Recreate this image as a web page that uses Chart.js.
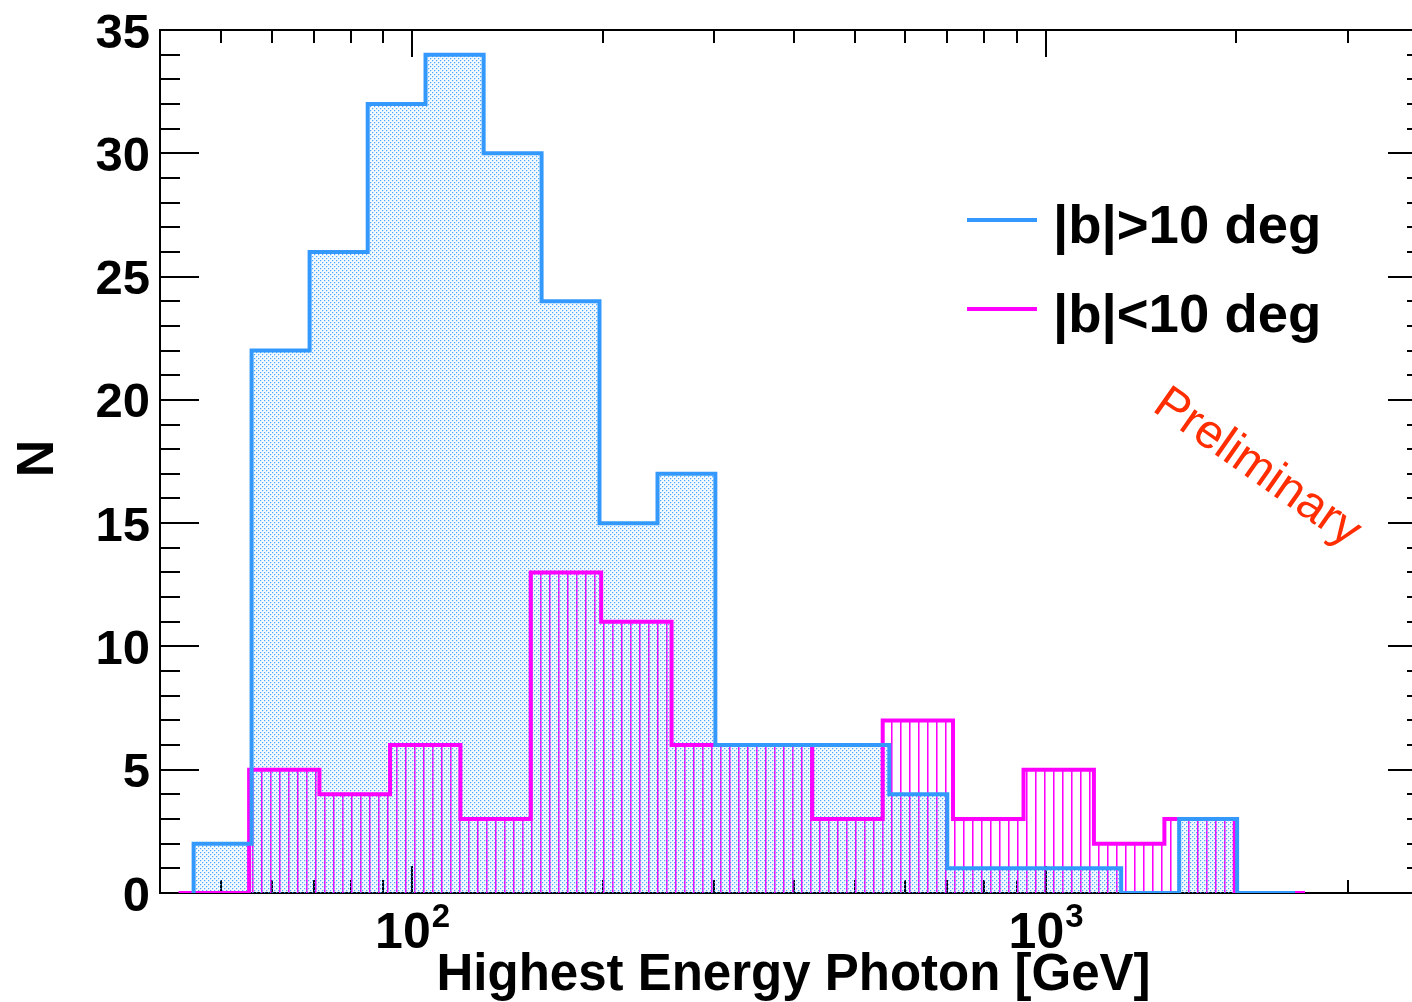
<!DOCTYPE html>
<html>
<head>
<meta charset="utf-8">
<script src="https://cdn.jsdelivr.net/npm/chart.js@4.4.1/dist/chart.umd.min.js"></script>
<style>
  html, body { margin: 0; padding: 0; background: #ffffff; overflow: hidden; }
  #wrap { width: 1412px; height: 1002px; overflow: hidden; position: relative; }
  canvas { display: block; }
</style>
</head>
<body>
<div id="wrap"><canvas id="c" width="1440" height="1002"></canvas></div>
<script>
// Histogram of the highest-energy photon per source, split by galactic latitude.
// Bin edges in GeV (log-uniform binning), counts per bin.
const highLatEdges = [45.2, 55.8, 68.9, 85.1, 105.0, 129.7, 160.1, 197.6, 244.0, 301.1,
                      371.8, 458.9, 566.6, 699.5, 863.6, 1066, 1316, 1625, 2006, 2476];
const highLatCounts = [2, 22, 26, 32, 34, 30, 24, 15, 17, 6, 6, 6, 4, 1, 1, 1, 0, 3, 0];

const lowLatEdges = [42.8, 55.3, 71.4, 92.3, 119.2, 153.9, 198.8, 256.8, 331.6,
                     428.2, 553.2, 714.3, 922.9, 1192, 1540, 1989, 2567];
const lowLatCounts = [0, 5, 4, 6, 3, 13, 11, 6, 6, 3, 7, 3, 5, 2, 3, 0];

const seriesLabels = ['|b|>10 deg', '|b|<10 deg'];
const seriesColors = ['#3399ff', '#ff00ff'];

const xRange = [40, 4000];
const yRange = [0, 35];
const yMajorTicks = [0, 5, 10, 15, 20, 25, 30, 35];
const yMinorTicks = [1, 2, 3, 4, 6, 7, 8, 9, 11, 12, 13, 14, 16, 17, 18, 19,
                     21, 22, 23, 24, 26, 27, 28, 29, 31, 32, 33, 34];
const xMajorTicks = [100, 1000];
const xMajorExponents = ['2', '3'];
const xMinorTicks = [50, 60, 70, 80, 90, 200, 300, 400, 500, 600, 700, 800, 900, 2000, 3000];

const xTitle = 'Highest Energy Photon [GeV]';
const yTitle = 'N';
const stampText = 'Preliminary';

const FONT = '"Liberation Sans", Arial, Helvetica, sans-serif';

// Outline points for a step histogram: rise from zero at the first edge,
// one point per bin at its left edge, then drop back to zero at the last edge.
function stepPoints(edges, counts) {
  const pts = [{ x: edges[0], y: 0 }];
  counts.forEach((c, i) => pts.push({ x: edges[i], y: c }));
  pts.push({ x: edges[edges.length - 1], y: 0 });
  return pts;
}

// Fine dot hatch for the high-latitude fill.
function dotPattern() {
  const t = document.createElement('canvas');
  t.width = 4; t.height = 4;
  const g = t.getContext('2d');
  g.fillStyle = 'rgba(51,153,255,0.05)';
  g.fillRect(0, 0, 4, 4);
  g.fillStyle = 'rgba(51,153,255,0.22)';
  g.fillRect(1, 0, 1, 1); g.fillRect(0, 1, 1, 1);
  g.fillRect(3, 2, 1, 1); g.fillRect(2, 3, 1, 1);
  g.fillStyle = 'rgba(51,153,255,0.85)';
  g.fillRect(0, 0, 1, 1);
  g.fillRect(2, 2, 1, 1);
  return g.createPattern(t, 'repeat');
}

// Vertical line hatch for the low-latitude fill.
function linePattern() {
  const t = document.createElement('canvas');
  t.width = 9; t.height = 1;
  const g = t.getContext('2d');
  g.fillStyle = 'rgba(255,0,255,1)';
  g.fillRect(0, 0, 1, 1);
  g.fillStyle = 'rgba(255,0,255,0.55)';
  g.fillRect(1, 0, 1, 1);
  return g.createPattern(t, 'repeat');
}

// Frame with inward ticks on all four sides, drawn under everything else.
const framePlugin = {
  id: 'frame',
  beforeDraw(chart) {
    const { ctx, chartArea: a, scales: { x, y } } = chart;
    ctx.save();
    ctx.strokeStyle = '#000';
    ctx.lineWidth = 2;
    ctx.beginPath();
    const tickY = (v, len) => {
      const py = Math.round(y.getPixelForValue(v));
      ctx.moveTo(a.left, py); ctx.lineTo(a.left + len, py);
      ctx.moveTo(a.right, py); ctx.lineTo(a.right - len, py);
    };
    const tickX = (v, len) => {
      const px = Math.round(x.getPixelForValue(v));
      ctx.moveTo(px, a.bottom); ctx.lineTo(px, a.bottom - len);
      ctx.moveTo(px, a.top); ctx.lineTo(px, a.top + len);
    };
    yMajorTicks.forEach(v => tickY(v, 39));
    yMinorTicks.forEach(v => tickY(v, 20));
    xMajorTicks.forEach(v => tickX(v, 27));
    xMinorTicks.forEach(v => tickX(v, 13));
    ctx.stroke();
    ctx.strokeRect(a.left, a.top, a.right - a.left, a.bottom - a.top);
    ctx.restore();
  }
};

// Tick labels, axis titles, legend and stamp.
const textPlugin = {
  id: 'texts',
  afterDraw(chart) {
    const { ctx, chartArea: a, scales: { x, y } } = chart;
    const ds = chart.data.datasets;
    ctx.save();
    ctx.fillStyle = '#000';

    // y tick labels
    ctx.font = 'bold 49px ' + FONT;
    ctx.textAlign = 'right';
    ctx.textBaseline = 'alphabetic';
    yMajorTicks.forEach(v => {
      ctx.fillText(String(v), 150, y.getPixelForValue(v) + 17.5);
    });

    // x tick labels as powers of ten
    xMajorTicks.forEach((v, i) => {
      const px = x.getPixelForValue(v);
      ctx.font = 'bold 50px ' + FONT;
      const wBase = ctx.measureText('10').width;
      ctx.font = 'bold 33px ' + FONT;
      const wExp = ctx.measureText(xMajorExponents[i]).width;
      const start = px - (wBase + wExp) / 2;
      ctx.textAlign = 'left';
      ctx.font = 'bold 50px ' + FONT;
      ctx.fillText('10', start, 948);
      ctx.font = 'bold 33px ' + FONT;
      ctx.fillText(xMajorExponents[i], start + wBase + 1, 927);
    });

    // axis titles
    ctx.font = 'bold 51px ' + FONT;
    ctx.textAlign = 'center';
    ctx.fillText(xTitle, (a.left + a.right) / 2, 990);

    ctx.save();
    ctx.translate(53, (a.top + a.bottom) / 2 - 3);
    ctx.rotate(-Math.PI / 2);
    ctx.font = 'bold 52px ' + FONT;
    ctx.textAlign = 'center';
    ctx.fillText(yTitle, 0, 0);
    ctx.restore();

    // legend
    const legendRows = [243, 332];
    ds.forEach((d, i) => {
      const base = legendRows[i];
      ctx.strokeStyle = d.borderColor;
      ctx.lineWidth = 4;
      ctx.beginPath();
      ctx.moveTo(967, base - 23);
      ctx.lineTo(1037, base - 23);
      ctx.stroke();
      ctx.fillStyle = '#000';
      ctx.font = 'bold 54.5px ' + FONT;
      ctx.textAlign = 'left';
      ctx.fillText(d.label, 1053, base);
    });

    // preliminary stamp
    ctx.save();
    ctx.translate(1257, 468);
    ctx.rotate(35 * Math.PI / 180);
    ctx.fillStyle = '#ff2d00';
    ctx.font = '48px ' + FONT;
    ctx.textAlign = 'center';
    ctx.textBaseline = 'middle';
    ctx.fillText(stampText, 0, 0);
    ctx.restore();

    ctx.restore();
  }
};

new Chart(document.getElementById('c'), {
  type: 'line',
  data: {
    datasets: [
      {
        label: seriesLabels[0],
        data: stepPoints(highLatEdges, highLatCounts),
        stepped: 'before',
        borderColor: seriesColors[0],
        borderWidth: 4,
        backgroundColor: dotPattern(),
        fill: 'origin',
        pointRadius: 0,
        borderJoinStyle: 'miter',
        borderCapStyle: 'butt'
      },
      {
        label: seriesLabels[1],
        data: stepPoints(lowLatEdges, lowLatCounts),
        stepped: 'before',
        borderColor: seriesColors[1],
        borderWidth: 4,
        backgroundColor: linePattern(),
        fill: 'origin',
        pointRadius: 0,
        borderJoinStyle: 'miter',
        borderCapStyle: 'butt'
      }
    ]
  },
  options: {
    responsive: false,
    animation: false,
    devicePixelRatio: 1,
    layout: { padding: { left: 160, top: 30, right: 13, bottom: 109 } },
    scales: {
      x: { type: 'logarithmic', min: xRange[0], max: xRange[1], display: false },
      y: { type: 'linear', min: yRange[0], max: yRange[1], display: false }
    },
    plugins: {
      legend: { display: false },
      tooltip: { enabled: false },
      filler: { drawTime: 'beforeDatasetsDraw' }
    },
    events: []
  },
  plugins: [framePlugin, textPlugin]
});
</script>
</body>
</html>
